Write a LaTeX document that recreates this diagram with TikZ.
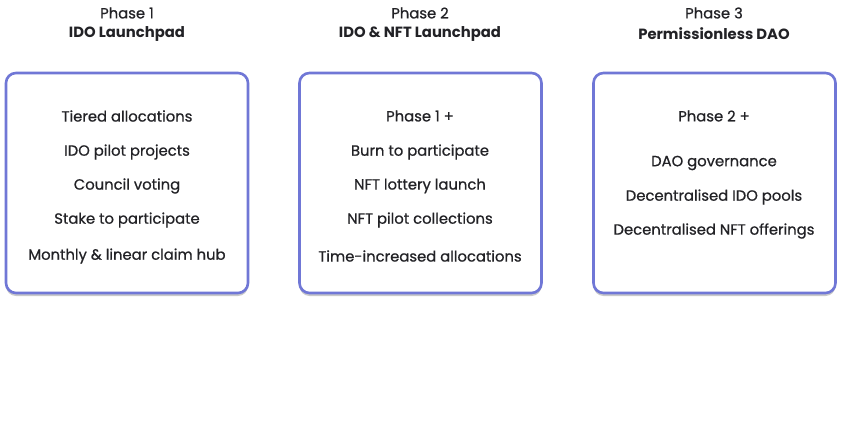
\documentclass[tikz,border=0pt]{standalone}
\usepackage{fontspec}
\setmainfont{Poppins}
\newfontfamily\medio{Poppins}[FakeBold=0.7]
\usetikzlibrary{shadows}
\definecolor{borde}{HTML}{7077D6}
\definecolor{letra}{HTML}{222226}

\begin{document}
\begin{tikzpicture}[x=1pt,y=-1pt]
\tikzstyle{caja fase}=[draw=borde,line width=2.6pt,rounded corners=10pt,fill=white,minimum width=242pt,minimum height=220pt,drop shadow={shadow xshift=0pt,shadow yshift=-3pt,opacity=0.35,fill=black!60}]
\tikzstyle{texto}=[text=letra,font=\medio\fontsize{14.8}{17}\selectfont,inner sep=0pt]
\tikzstyle{titulo}=[texto,font=\fontsize{14.8}{17}\selectfont\bfseries]

\useasboundingbox[fill=white] (0,0) rectangle (844,423);

% encabezados
\node[texto] (p1) at (127,13) {Phase 1};
\node[titulo] (t1) at (127,34) {IDO Launchpad};
\node[texto] (p2) at (420,13) {Phase 2};
\node[titulo] (t2) at (420,34) {IDO \& NFT Launchpad};
\node[texto] (p3) at (714,13) {Phase 3};
\node[titulo] (t3) at (714,34) {Permissionless DAO};

% cajas
\node[caja fase] (c1) at (127,183) {};
\node[caja fase] (c2) at (420.5,183) {};
\node[caja fase] (c3) at (714.5,183) {};

\node[texto] (c1a) at (127,116) {Tiered allocations};
\node[texto] (c1b) at (127,152) {IDO pilot projects};
\node[texto] (c1c) at (127,186) {Council voting};
\node[texto] (c1d) at (127,220) {Stake to participate};
\node[texto] (c1e) at (127,256) {Monthly \& linear claim hub};

\node[texto] (c2a) at (420,116) {Phase 1 +};
\node[texto] (c2b) at (420,152) {Burn to participate};
\node[texto] (c2c) at (420,186) {NFT lottery launch};
\node[texto] (c2d) at (420,220) {NFT pilot collections};
\node[texto] (c2e) at (420,256) {Time-increased allocations};

\node[texto] (c3a) at (714,116) {Phase 2 +};
\node[texto] (c3b) at (714,163) {DAO governance};
\node[texto] (c3c) at (714,197) {Decentralised IDO pools};
\node[texto] (c3d) at (714,231) {Decentralised NFT offerings};
\end{tikzpicture}
\end{document}
